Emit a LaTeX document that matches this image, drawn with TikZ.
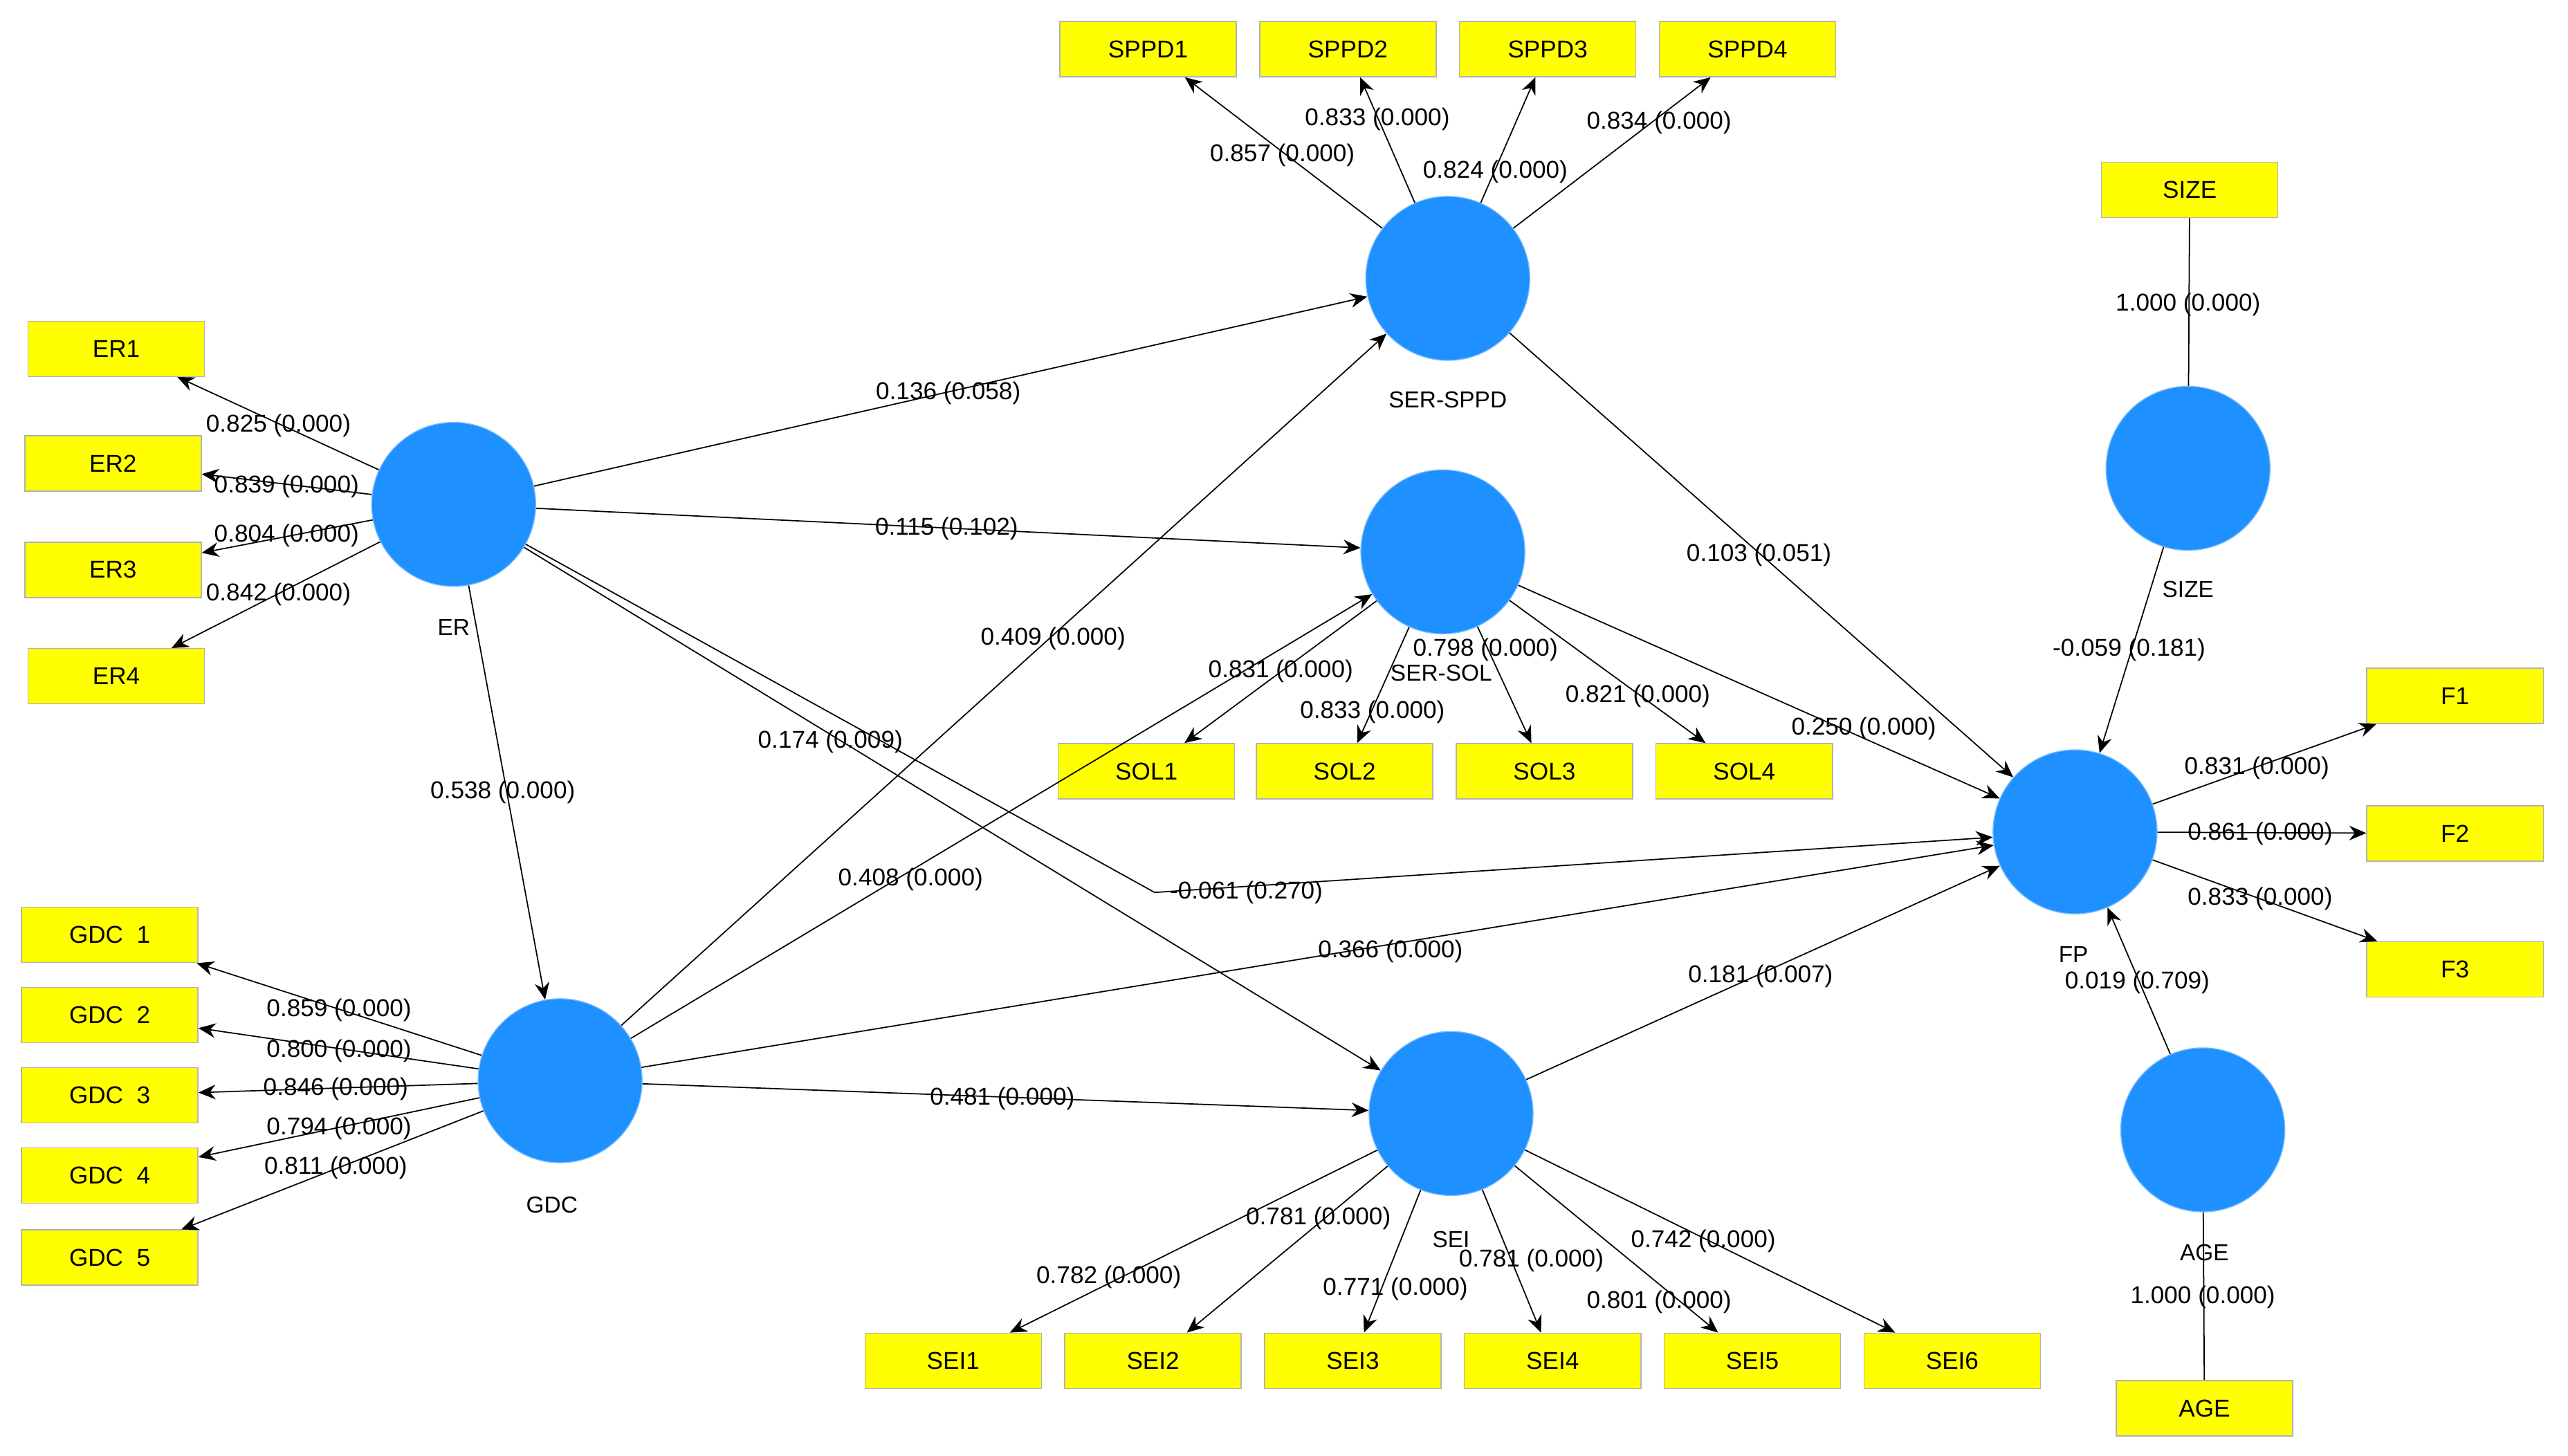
\documentclass[tikz,border=0pt]{standalone}
\usepackage{fontspec}
\setmainfont{Liberation Sans}
\usetikzlibrary{arrows.meta}
\definecolor{cblue}{RGB}{30,144,255}
\definecolor{cyel}{RGB}{255,255,0}
\begin{document}
\begin{tikzpicture}[x=0.02367cm,y=-0.02367cm,
 lv/.style={circle,fill=cblue,draw=cblue!60,minimum size=2.37cm,inner sep=0pt},
 box/.style={rectangle,fill=cyel,draw=black!30,minimum width=2.55cm,minimum height=0.8cm,font=\fontsize{10}{12}\selectfont},
 lab/.style={font=\fontsize{10}{12}\selectfont,inner sep=1pt},
 nm/.style={font=\fontsize{9.5}{11}\selectfont,inner sep=1pt},
 ar/.style={-{Stealth[length=7pt,width=6pt]},black,line width=0.5pt},
 ln/.style={black,line width=0.5pt}]
\useasboundingbox (0,0) rectangle (1568,889);
\node[lv] (ER) at (277,308) {};
\node[lv] (SPPD) at (884,170) {};
\node[lv] (SOL) at (881,337) {};
\node[lv] (GDC) at (342,660) {};
\node[lv] (SEI) at (886,680) {};
\node[lv] (FP) at (1267,508) {};
\node[lv] (SZ) at (1336,286) {};
\node[lv] (AG) at (1345,690) {};
\node[nm] (nER) at (277,383) {ER};
\node[nm] (nSPPD) at (884,244) {SER-SPPD};
\node[nm] (nSOL) at (880,411) {SER-SOL};
\node[nm] (nGDC) at (337,736) {GDC};
\node[nm] (nSEI) at (886,757) {SEI};
\node[nm] (nFP) at (1266,583) {FP};
\node[nm] (nSZ) at (1336,360) {SIZE};
\node[nm] (nAG) at (1346,765) {AGE};
\coordinate (bend) at (705,545);
% boxes
\foreach \n/\t/\x/\y in {ER1/ER1/71/213,ER2/ER2/69/283,ER3/ER3/69/348,ER4/ER4/71/413,
 G1/GDC\ \ 1/67/571,G2/GDC\ \ 2/67/620,G3/GDC\ \ 3/67/669,G4/GDC\ \ 4/67/718,G5/GDC\ \ 5/67/768,
 P1/SPPD1/701/30,P2/SPPD2/823/30,P3/SPPD3/945/30,P4/SPPD4/1067/30,
 S1/SOL1/700/471,S2/SOL2/821/471,S3/SOL3/943/471,S4/SOL4/1065/471,
 F1/F1/1499/425,F2/F2/1499/509,F3/F3/1499/592,
 E1/SEI1/582/831,E2/SEI2/704/831,E3/SEI3/826/831,E4/SEI4/948/831,E5/SEI5/1070/831,E6/SEI6/1192/831,
 BSZ/SIZE/1337/116,BAG/AGE/1346/860}
 \node[box] (\n) at (\x,\y) {\t};
% loadings
\foreach \a/\b in {ER/ER1,ER/ER2,ER/ER3,ER/ER4,GDC/G1,GDC/G2,GDC/G3,GDC/G4,GDC/G5,
 SPPD/P1,SPPD/P2,SPPD/P3,SPPD/P4,SOL/S1,SOL/S2,SOL/S3,SOL/S4,FP/F1,FP/F2,FP/F3,
 SEI/E1,SEI/E2,SEI/E3,SEI/E4,SEI/E5,SEI/E6}
 \draw[ar] (\a) -- (\b);
\draw[ln] (BSZ) -- (SZ);
\draw[ln] (BAG) -- (AG);
% structural
\foreach \a/\b in {ER/SPPD,ER/SOL,ER/GDC,ER/SEI,GDC/SPPD,GDC/SOL,GDC/FP,GDC/SEI,
 SPPD/FP,SOL/FP,SEI/FP,SZ/FP,AG/FP}
 \draw[ar] (\a) -- (\b);
\draw[ar] (ER) -- (bend) -- (FP);
% labels
\foreach \t/\x/\y in {0.825 (0.000)/170/260,0.839 (0.000)/175/297,0.804 (0.000)/175/327,0.842 (0.000)/170/363,
 0.859 (0.000)/207/617,0.800 (0.000)/207/642,0.846 (0.000)/205/665,0.794 (0.000)/207/689,0.811 (0.000)/205/713,
 0.857 (0.000)/783/95,0.833 (0.000)/841/73,0.824 (0.000)/913/105,0.834 (0.000)/1013/75,
 1.000 (0.000)/1336/186,1.000 (0.000)/1345/792,
 0.831 (0.000)/782/410,0.798 (0.000)/907/397,0.833 (0.000)/838/435,0.821 (0.000)/1000/425,
 0.831 (0.000)/1378/469,0.861 (0.000)/1380/509,0.833 (0.000)/1380/549,
 0.781 (0.000)/805/744,0.782 (0.000)/677/780,0.771 (0.000)/852/787,0.781 (0.000)/935/770,0.742 (0.000)/1040/758,0.801 (0.000)/1013/795,
 0.136 (0.058)/579/240,0.115 (0.102)/578/323,0.409 (0.000)/643/390,0.174 (0.009)/507/453,0.538 (0.000)/307/484,
 0.408 (0.000)/556/537,-0.061 (0.270)/761/545,0.366 (0.000)/849/581,0.481 (0.000)/612/671,
 0.103 (0.051)/1074/339,0.250 (0.000)/1138/445,0.181 (0.007)/1075/596,-0.059 (0.181)/1300/397,0.019 (0.709)/1305/600}
 \node[lab] at (\x,\y) {\t};
\end{tikzpicture}
\end{document}
